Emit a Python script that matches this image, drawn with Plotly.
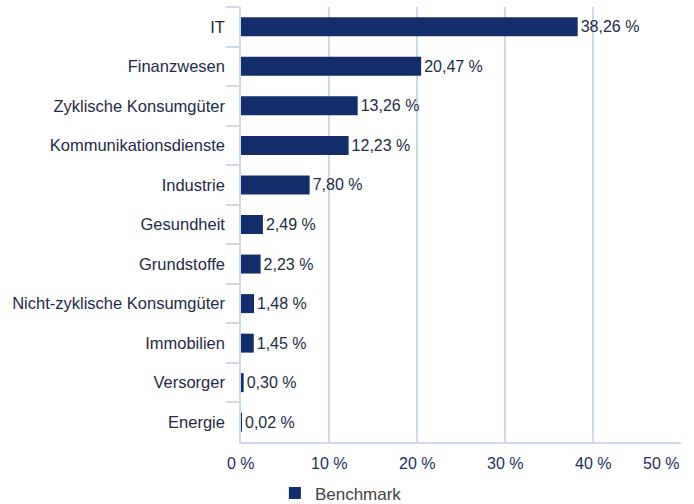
import plotly.graph_objects as go

categories = ["IT", "Finanzwesen", "Zyklische Konsumgüter", "Kommunikationsdienste",
              "Industrie", "Gesundheit", "Grundstoffe", "Nicht-zyklische Konsumgüter",
              "Immobilien", "Versorger", "Energie"]
values = [38.26, 20.47, 13.26, 12.23, 7.80, 2.49, 2.23, 1.48, 1.45, 0.30, 0.02]
series_name = "Benchmark"
x_ticks = [0, 10, 20, 30, 40, 50]
x_tick_labels = ["0 %", "10 %", "20 %", "30 %", "40 %", "50 %"]

BAR = "#142e6b"
GRID = "#cdd9ea"
FONT = "Liberation Sans, Arial, sans-serif"

fig = go.Figure()
fig.add_trace(go.Bar(
    y=categories, x=values, orientation="h", name=series_name,
    marker=dict(color=BAR, line=dict(width=0)),
    texttemplate="%{x:.2f} %", textposition="outside",
    textfont=dict(family=FONT, size=16, color="#222c45"),
    cliponaxis=False,
))

annotations = []
for v, t in zip(x_ticks, x_tick_labels):
    annotations.append(dict(
        x=v, y=0, xref="x", yref="paper", text=t, showarrow=False,
        xanchor="right" if v == x_ticks[-1] else "center", yanchor="top",
        yshift=-11, font=dict(family=FONT, size=16, color="#1e2e5c"),
    ))

fig.update_layout(
    width=694, height=504,
    margin=dict(l=241, r=13, t=7, b=62, autoexpand=False),
    paper_bgcolor="white", plot_bgcolor="white",
    separators=",.",
    bargap=0.52,
    font=dict(family=FONT, size=16, color="#1f2a48"),
    showlegend=True,
    legend=dict(orientation="h", x=0.077, xanchor="left", y=-0.077, yanchor="top",
                font=dict(family=FONT, size=17, color="#444444")),
    annotations=annotations,
    xaxis=dict(range=[0, 50], tickvals=x_ticks, showticklabels=False,
               showgrid=True, gridcolor=GRID, gridwidth=1.5, zeroline=False,
               showline=True, linecolor=GRID, linewidth=1.5, ticks="",
               automargin=False),
    yaxis=dict(type="category", autorange="reversed", tickson="boundaries", ticks="outside",
               ticklen=13, tickcolor=GRID, tickwidth=1.5,
               showline=True, linecolor=GRID, linewidth=1.5, showgrid=False,
               automargin=False, ticklabelstandoff=11,
               tickfont=dict(family=FONT, size=16.5, color="#1f2a48")),
)

fig.write_html("out.html", config={"displayModeBar": False},
               post_script="document.body.style.margin='0';")
